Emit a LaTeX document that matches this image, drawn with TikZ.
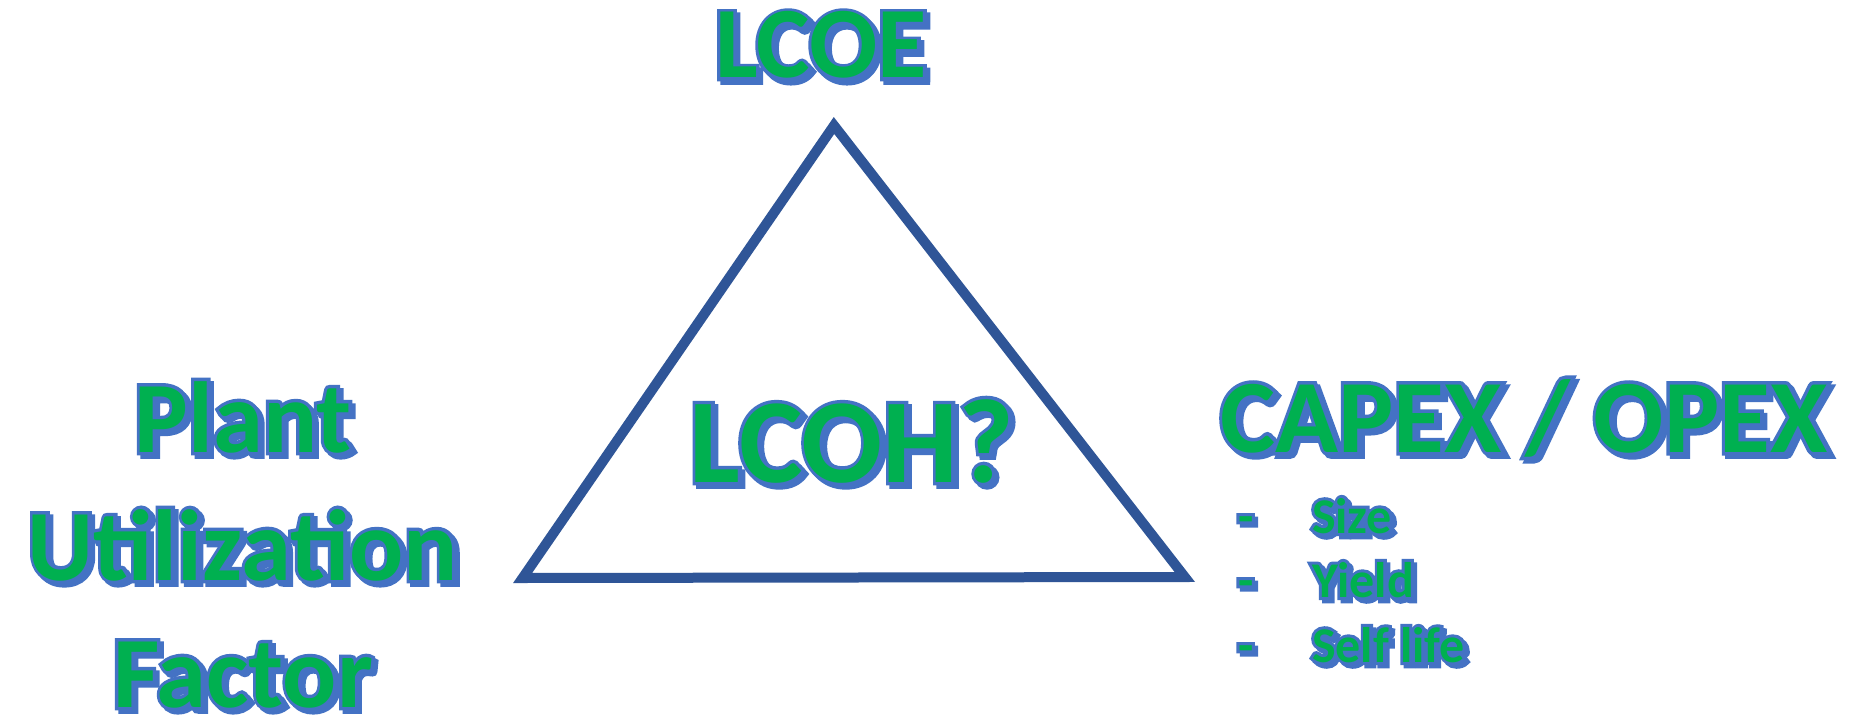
\documentclass[tikz,border=0pt]{standalone}
\usepackage{fontspec}
% plain Carlito for the fill, stroked Carlito (render mode 2) for rim and shadow
\newfontfamily\wafill{Carlito}
\newfontfamily\wafontL{Carlito}[FakeBold=6.8]
\newfontfamily\wafontM{Carlito}[FakeBold=5.7]
\newfontfamily\wafontS{Carlito}[FakeBold=12]
\definecolor{waGreen}{HTML}{00B050}
\definecolor{waBlue}{HTML}{4472C4}
\definecolor{triBlue}{HTML}{2F5597}

% drop shadow offset of the lettering
\newlength\waSx  \setlength\waSx{1.7pt}
\newlength\waSy  \setlength\waSy{1.7pt}

% blue drop shadow, blue rim, green fill
\newcommand\wordart[1]{%
  \rlap{\hspace*{\waSx}\raisebox{-\waSy}{\color{waBlue}#1}}%
  \rlap{\color{waBlue}#1}%
  {\wafill\color{waGreen}#1}}

\tikzset{
  label/.style={inner sep=0pt, outer sep=0pt, anchor=base,
    font=\wafontL\bfseries\fontsize{50.5pt}{60pt}\selectfont},
  biglabel/.style={label, font=\wafontM\bfseries\fontsize{60pt}{72pt}\selectfont},
  listitem/.style={label, anchor=base west,
    font=\wafontS\bfseries\fontsize{25pt}{30pt}\selectfont},
  triline/.style={draw=triBlue, line width=5pt, miter limit=10, line join=miter}
}

\begin{document}
\begin{tikzpicture}[x=0.5pt, y=-0.5pt]
  \fill[white] (0,0) rectangle (1856,717);
  \useasboundingbox (0,0) rectangle (1856,717);

  % triangle
  \coordinate (apex) at (834,125.5);
  \coordinate (bl)   at (522.6,578);
  \coordinate (br)   at (1184.8,577);
  \draw[triline] (bl) -- (apex) -- (br) -- cycle;

  % corner and centre labels
  \node[label] (lcoe) at (821,78) {\wordart{LCOE}};
  \node[biglabel] (lcoh) at (852,482) {\wordart{LCOH?}};
  \node[label, font=\wafontL\bfseries\fontsize{52pt}{62pt}\selectfont]
    (capex) at (1524,452) {\wordart{CAPEX / OPEX}};

  \node[label] (plant)  at (243,452) {\wordart{Plant}};
  \node[label] (util)   at (243,580) {\wordart{Utilization}};
  \node[label] (factor) at (243,707) {\wordart{Factor}};

  % list of cost drivers
  \node[listitem] (dash1) at (1238,533) {\wordart{-}};
  \node[listitem] (dash2) at (1238,597) {\wordart{-}};
  \node[listitem] (dash3) at (1238,662) {\wordart{-}};
  \node[listitem] (size)     at (1312,533) {\wordart{Size}};
  \node[listitem] (yield)    at (1312,597) {\wordart{Yield}};
  \node[listitem] (selflife) at (1312,662) {\wordart{Self life}};
\end{tikzpicture}
\end{document}
